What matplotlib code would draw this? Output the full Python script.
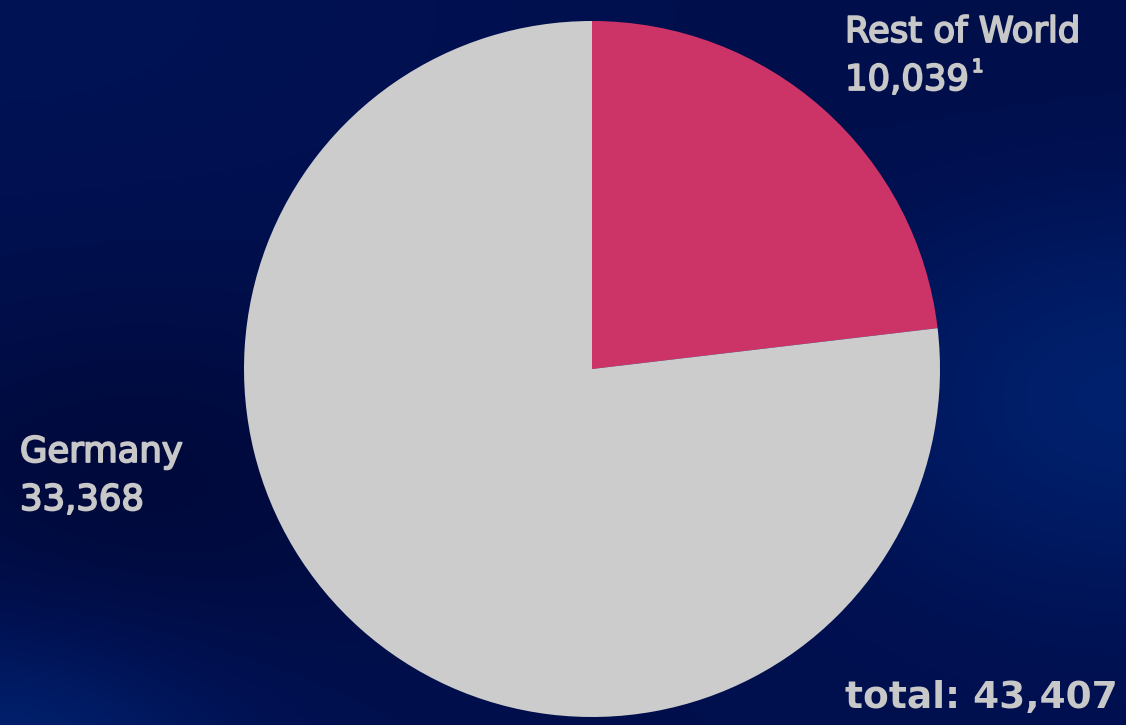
import matplotlib.pyplot as plt
import matplotlib.patheffects as pe
import numpy as np
from matplotlib.colors import LinearSegmentedColormap

labels = ["Rest of World", "Germany"]
values = [10039, 33368]
colors = ["#cc3366", "#cccccc"]
total_label = "total: 43,407"

fig = plt.figure(figsize=(11.26, 7.25), dpi=100)

# background: dark navy, darker on the left, lighter blue at the right and bottom-left
bg = fig.add_axes([0, 0, 1, 1])
yy, xx = np.mgrid[0:1:300j, 0:1:460j]


def blob(cx, cy, sx, sy):
    return np.exp(-((xx - cx) ** 2 / (2 * sx ** 2) + (yy - cy) ** 2 / (2 * sy ** 2)))


shade = (0.45
         - 0.28 * blob(0.12, 0.68, 0.18, 0.18)
         + 0.45 * blob(1.0, 0.55, 0.18, 0.2)
         + 0.5 * blob(0.0, 1.05, 0.15, 0.15)
         + 0.12 * blob(0.0, 0.0, 0.3, 0.25)
         - 0.05 * blob(0.9, 0.1, 0.2, 0.15))
cmap = LinearSegmentedColormap.from_list("bgblue", ["#000630", "#001050", "#002474"])
bg.imshow(shade, cmap=cmap, vmin=0, vmax=1, aspect="auto",
          extent=[0, 1, 0, 1], origin="upper", interpolation="bicubic")
bg.set_axis_off()

ax = fig.add_axes([244 / 1126, 8 / 725, 696 / 1126, 696 / 725])
ax.pie(values, colors=colors, startangle=90, counterclock=False, radius=1,
       wedgeprops=dict(linewidth=0))
ax.set_xlim(-1, 1)
ax.set_ylim(-1, 1)
ax.set_aspect("equal")
ax.set_axis_off()

thick = [pe.withStroke(linewidth=1.3, foreground="#c8c8c8")]
txt = dict(color="#c8c8c8", fontsize=25.5, family="DejaVu Sans", path_effects=thick)
fig.text(845 / 1126, 1 - 42 / 725, labels[0], **txt)
fig.text(845 / 1126, 1 - 90 / 725, f"{values[0]:,}", **txt)
fig.text(972 / 1126, 1 - 72 / 725, "1", color="#c8c8c8", fontsize=13,
         family="DejaVu Sans", path_effects=thick)
fig.text(20 / 1126, 1 - 462 / 725, labels[1], **txt)
fig.text(20 / 1126, 1 - 510 / 725, f"{values[1]:,}", **txt)
fig.text(845 / 1126, 1 - 708 / 725, total_label, color="#c8c8c8", fontsize=27,
         family="DejaVu Sans", fontweight="bold")

fig.savefig("out.png", dpi=100)
